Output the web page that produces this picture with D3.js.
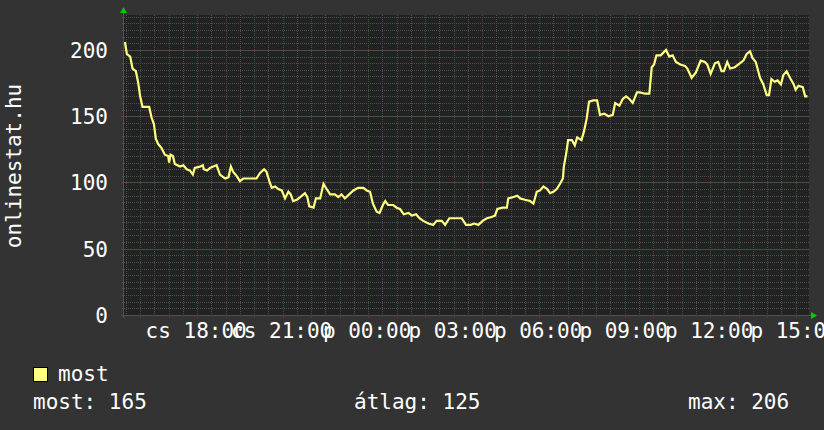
<!DOCTYPE html>
<html>
<head>
<meta charset="utf-8">
<script src="https://cdn.jsdelivr.net/npm/d3@7"></script>
<style>
  body { margin: 0; background: #333333; }
  svg { display: block; }
  text { font-family: "DejaVu Sans Mono", monospace; fill: #ffffff; }
</style>
</head>
<body>
<div class="chart"></div>
<script>
// minutes since the start of the graph (cs 15:26) and visitor counts
var minutes = [2, 6, 13, 18, 25, 30, 34, 39, 53, 58, 63, 67, 72, 79, 86, 93, 95, 98, 103, 107,
    118, 125, 132, 139, 145, 149, 160, 166, 168, 175, 181, 188, 195, 202, 213, 220, 225, 230, 237, 244,
    251, 265, 279, 286, 295, 300, 306, 311, 318, 325, 332, 339, 346, 351, 356, 364, 371, 381, 386, 390,
    399, 404, 413, 420, 425, 434, 444, 451, 458, 465, 474, 483, 493, 504, 511, 518, 524, 532, 538, 545,
    550, 556, 567, 574, 581, 589, 599, 606, 615, 622, 630, 641, 651, 658, 669, 676, 685, 693, 700, 711,
    720, 730, 737, 746, 755, 764, 774, 781, 786, 797, 806, 809, 820, 828, 834, 844, 855, 862, 869, 876,
    883, 891, 897, 904, 911, 918, 924, 926, 931, 935, 943, 949, 954, 963, 968, 974, 979, 988, 996, 1002,
    1011, 1020, 1029, 1034, 1043, 1050, 1057, 1064, 1071, 1080, 1086, 1097, 1106, 1111, 1116, 1121, 1130, 1141, 1148, 1155,
    1162, 1171, 1181, 1186, 1195, 1204, 1214, 1223, 1228, 1235, 1244, 1251, 1258, 1263, 1270, 1276, 1286, 1297, 1304, 1311,
    1318, 1323, 1330, 1339, 1346, 1353, 1358, 1363, 1370, 1376, 1383, 1388, 1395, 1402, 1410, 1414, 1420, 1429, 1434, 1439];
var visitors = [206, 197, 195, 186, 184, 175, 165, 157, 157, 149, 144, 133, 129, 126, 121, 120, 115, 121, 120, 114,
    112, 113, 110, 109, 106, 111, 112, 113, 110, 109, 111, 112, 113, 106, 103, 104, 112, 108, 105, 101,
    103, 103, 103, 107, 110, 108, 101, 96, 97, 95, 94, 88, 93, 91, 86, 87, 89, 92, 89, 82,
    81, 88, 88, 99, 96, 91, 91, 89, 91, 88, 91, 94, 96, 96, 94, 93, 84, 78, 77, 83,
    86, 83, 83, 81, 80, 76, 77, 75, 76, 73, 71, 69, 68, 71, 71, 68, 73, 73, 73, 73,
    68, 68, 69, 68, 71, 73, 74, 75, 80, 81, 81, 88, 89, 90, 88, 87, 86, 84, 93, 94,
    97, 95, 92, 93, 95, 99, 103, 112, 122, 132, 132, 128, 134, 132, 138, 148, 161, 162, 162, 151,
    152, 150, 151, 160, 158, 163, 165, 163, 160, 168, 168, 167, 167, 187, 189, 196, 196, 200, 195, 196,
    191, 189, 188, 186, 179, 183, 192, 191, 189, 182, 190, 191, 184, 184, 191, 186, 187, 190, 192, 197,
    199, 194, 191, 179, 174, 166, 166, 178, 176, 177, 174, 181, 184, 179, 174, 170, 173, 172, 165, 165];

var yTicks = [0, 50, 100, 150, 200];
var xTickLabels = ["cs 18:00", "cs 21:00", "p 00:00", "p 03:00", "p 06:00", "p 09:00", "p 12:00", "p 15:00"];
var legendName = "most";
var legendStats = ["most: 165", "átlag: 125", "max: 206"];

var svgWidth = 824;
var svgHeight = 430;
var plot = { left: 124, right: 808, top: 15, bottom: 315 };

var start = new Date(2010, 0, 7, 15, 26);   // a thursday (cs)
var end = d3.timeMinute.offset(start, 1440);

var svg = d3.select('div.chart')
    .append('svg')
    .attr('width', svgWidth)
    .attr('height', svgHeight);

svg.append('rect')
    .attr('width', svgWidth)
    .attr('height', svgHeight)
    .attr('fill', '#333333');

var x = d3.scaleTime()
    .domain([start, end])
    .range([plot.left, plot.right]);

var y = d3.scaleLinear()
    .domain([0, 226.4])
    .range([plot.bottom, plot.top]);

// canvas
svg.append('rect')
    .attr('x', plot.left)
    .attr('y', plot.top)
    .attr('width', plot.right - plot.left + 1)
    .attr('height', plot.bottom - plot.top)
    .attr('fill', '#222222');

var grid = svg.append('g').attr('shape-rendering', 'crispEdges');

// minor grid: every 30 minutes and every 5 visitors
var minorTimes = d3.timeMinute.every(30).range(start, end);
var minorVals = d3.range(5, 226, 5);
var majorTimes = d3.timeHour.range(start, end);

grid.selectAll('line.vminor')
    .data(minorTimes)
    .enter()
    .append('line')
    .attr('x1', function (d) { return Math.round(x(d)) + 0.5; })
    .attr('x2', function (d) { return Math.round(x(d)) + 0.5; })
    .attr('y1', plot.top)
    .attr('y2', plot.bottom + 2)
    .attr('stroke', '#4e4e4e')
    .attr('stroke-dasharray', '1,1');

grid.selectAll('line.hminor')
    .data(minorVals)
    .enter()
    .append('line')
    .attr('x1', plot.left - 2)
    .attr('x2', plot.right + 1)
    .attr('y1', function (d) { return Math.round(y(d)) + 0.5; })
    .attr('y2', function (d) { return Math.round(y(d)) + 0.5; })
    .attr('stroke', '#4e4e4e')
    .attr('stroke-dasharray', '1,1');

// major grid: every hour and at labelled values
grid.selectAll('line.vmajor')
    .data(majorTimes)
    .enter()
    .append('line')
    .attr('x1', function (d) { return Math.round(x(d)) + 0.5; })
    .attr('x2', function (d) { return Math.round(x(d)) + 0.5; })
    .attr('y1', plot.top)
    .attr('y2', plot.bottom + 3)
    .attr('stroke', '#803232')
    .attr('stroke-dasharray', '1,1');

grid.selectAll('line.hmajor')
    .data(yTicks.slice(1))
    .enter()
    .append('line')
    .attr('x1', plot.left - 3)
    .attr('x2', plot.right + 1)
    .attr('y1', function (d) { return Math.round(y(d)) + 0.5; })
    .attr('y2', function (d) { return Math.round(y(d)) + 0.5; })
    .attr('stroke', '#803232')
    .attr('stroke-dasharray', '1,1');

// axes
grid.append('line')
    .attr('x1', plot.left - 3).attr('x2', plot.right + 3)
    .attr('y1', plot.bottom + 0.5).attr('y2', plot.bottom + 0.5)
    .attr('stroke', '#505050');
grid.append('line')
    .attr('x1', plot.left - 0.5).attr('x2', plot.left - 0.5)
    .attr('y1', plot.top - 3).attr('y2', plot.bottom + 3)
    .attr('stroke', '#505050');

// green arrows at axis ends
svg.append('path')
    .attr('d', 'M' + (plot.left - 4) + ',' + 13 + 'L' + (plot.left - 0.5) + ',' + 7 + 'L' + (plot.left + 3) + ',' + 13 + 'Z')
    .attr('fill', '#00cc00');
svg.append('path')
    .attr('d', 'M' + (plot.right + 3) + ',' + (plot.bottom - 3) + 'L' + (plot.right + 9) + ',' + (plot.bottom + 0.5) + 'L' + (plot.right + 3) + ',' + (plot.bottom + 4) + 'Z')
    .attr('fill', '#00cc00');

// the data line
var data = minutes.map(function (m, i) {
    return { t: d3.timeMinute.offset(start, m), v: visitors[i] };
});

var line = d3.line()
    .x(function (d) { return x(d.t); })
    .y(function (d) { return y(d.v); });

svg.append('path')
    .datum(data)
    .attr('d', line)
    .attr('fill', 'none')
    .attr('stroke', '#ffff80')
    .attr('stroke-width', 2.2)
    .attr('stroke-linejoin', 'miter');

// y labels
svg.append('g')
    .selectAll('text')
    .data(yTicks)
    .enter()
    .append('text')
    .attr('x', 108)
    .attr('y', function (d) { return y(d) + 8; })
    .attr('text-anchor', 'end')
    .style('font-size', '21px')
    .text(function (d) { return d; });

// x labels every 3 hours
var labelTimes = d3.timeHour.every(3).range(start, end);
svg.append('g')
    .selectAll('text')
    .data(labelTimes)
    .enter()
    .append('text')
    .attr('x', function (d) { return x(d) - 1; })
    .attr('y', 338)
    .attr('text-anchor', 'middle')
    .style('font-size', '21px')
    .text(function (d, i) { return xTickLabels[i]; });

// vertical title
svg.append('text')
    .attr('transform', 'translate(21,166) rotate(-90)')
    .attr('text-anchor', 'middle')
    .style('font-size', '21px')
    .text('onlinestat.hu');

// legend
svg.append('rect')
    .attr('x', 33.5)
    .attr('y', 367.5)
    .attr('width', 14)
    .attr('height', 14)
    .attr('fill', '#ffff80')
    .attr('stroke', '#000000');

svg.append('text')
    .attr('x', 58)
    .attr('y', 381)
    .style('font-size', '21px')
    .text(legendName);

var statX = [33, 354, 688];
svg.append('g')
    .selectAll('text')
    .data(legendStats)
    .enter()
    .append('text')
    .attr('x', function (d, i) { return statX[i]; })
    .attr('y', 409)
    .style('font-size', '21px')
    .text(function (d) { return d; });
</script>
</body>
</html>
